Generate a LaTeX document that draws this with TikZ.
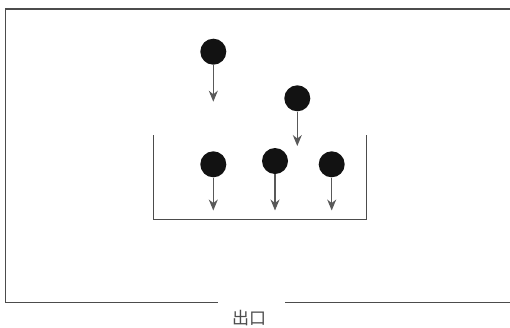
\documentclass[tikz,border=0pt]{standalone}
\usepackage{fontspec}
\newfontfamily\cjk{Noto Sans CJK SC}
\usetikzlibrary{arrows.meta}
\begin{document}
\begin{tikzpicture}[x=1pt,y=-1pt,
  wall/.style={draw=black!70,line width=1.3pt},
  ball/.style={circle,fill=black!93,draw=none,minimum size=26pt,inner sep=0pt},
  fall/.style={draw=black!65,line width=1.1pt,-{Stealth[length=11pt,width=9pt]}}]
\useasboundingbox (0,0) rectangle (510,327);
% outer room
\draw[wall] (510,9) -- (5.5,9) -- (5.5,302.5) -- (218,302.5);
\draw[wall] (285,302.5) -- (510,302.5);
\node[font=\cjk\fontsize{17pt}{19pt}\selectfont,text=black!70] (exit) at (249,318) {出口};
% inner box
\draw[wall] (153.3,135) -- (153.3,219.5) -- (366.7,219.5) -- (366.7,135);
% balls
\node[ball] (b1) at (213.3,51.7) {};
\node[ball] (b2) at (297.3,98.3) {};
\node[ball] (b3) at (213.3,164.3) {};
\node[ball] (b4) at (275,161) {};
\node[ball] (b5) at (331.7,164.3) {};
\coordinate (t1) at (213.3,101.7);
\coordinate (t2) at (297.3,146);
\coordinate (t3) at (213.3,210.5);
\coordinate (t4) at (275,210.5);
\coordinate (t5) at (331.7,210.5);
\foreach \i in {1,...,5} \draw[fall] (b\i.south) -- (t\i);
\end{tikzpicture}
\end{document}
